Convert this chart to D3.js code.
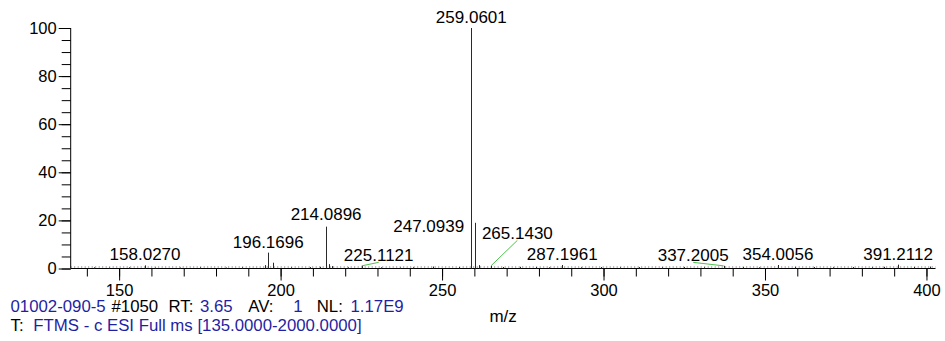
<!DOCTYPE html>
<html>
<head>
<meta charset="utf-8">
<script src="https://cdn.jsdelivr.net/npm/d3@7/dist/d3.min.js"></script>
<style>
  html, body { margin: 0; padding: 0; background: #fff; }
  svg { display: block; font-family: "Liberation Sans", Arial, sans-serif; }
</style>
</head>
<body>
<svg id="chart" width="945" height="341"></svg>
<script>
// Labelled centroid peaks (m/z, relative abundance %)
const labelMz   = [158.0270, 196.1696, 214.0896, 225.1121, 247.0939, 259.0601, 265.1430, 287.1961, 337.2005, 354.0056, 391.2112];
const labelInt  = [1.3, 6.6, 17.4, 1.1, 0.8, 100, 1.1, 1.45, 1.1, 1.45, 1.6];
const labelText = ["158.0270", "196.1696", "214.0896", "225.1121", "247.0939", "259.0601", "265.1430", "287.1961", "337.2005", "354.0056", "391.2112"];

// Smaller unlabelled peaks
const minorMz  = [142.1, 147.0, 153.2, 161.1, 168.9, 175.0, 183.1, 188.2, 195.2, 197.8, 203.1, 209.0, 212.1, 215.09, 216.0, 221.0, 231.1, 236.9, 241.0, 255.1, 260.0635, 261.3, 269.0, 274.1, 279.0, 283.2, 293.0, 299.1, 305.2, 311.0, 318.1, 324.9, 331.2, 343.1, 348.0, 359.2, 365.1, 371.0, 377.2, 383.1, 387.0, 396.2, 401.0];
const minorInt = [0.5, 0.4, 0.5, 0.4, 0.4, 0.5, 0.4, 0.5, 1.4, 2.4, 0.5, 0.6, 0.7, 1.8, 1.0, 0.5, 0.5, 0.4, 0.5, 0.6, 19.0, 1.4, 0.6, 0.7, 0.6, 0.5, 0.5, 0.6, 0.5, 0.6, 0.5, 0.6, 0.5, 0.6, 0.5, 0.7, 0.6, 0.5, 0.6, 0.5, 0.7, 0.6, 0.8];

// Axis ticks
const yMajorTicks = [0, 20, 40, 60, 80, 100];
const xMajorTicks = [150, 200, 250, 300, 350, 400];

// Scan header lines: [text, colour key]
const headerLine1 = [["01002-090-5", "v"], ["#1050", "k"], ["RT:", "k"], ["3.65", "v"], ["AV:", "k"], ["1", "v"], ["NL:", "k"], ["1.17E9", "v"]];
const headerLine2 = [["T:", "k"], ["FTMS - c ESI Full ms [135.0000-2000.0000]", "v"]];

// ---- layout ----
const svg = d3.select("#chart");
const plotLeft = 70.7, plotRight = 935.5, plotTop = 28, plotBase = 268.5;
const x = d3.scaleLinear().domain([135, 402.8]).range([plotLeft, plotRight]);
const y = d3.scaleLinear().domain([0, 100]).range([plotBase, plotTop]);

const blue = "#1f1fa3";
const green = "#4cc24c";

// Baseline noise texture just above the axis
svg.append("line")
  .attr("x1", plotLeft).attr("x2", plotRight)
  .attr("y1", plotBase - 1.5).attr("y2", plotBase - 1.5)
  .attr("stroke", "#555").attr("stroke-width", 1)
  .attr("stroke-dasharray", "1,2.5");

// Axes
const yAxisMinor = d3.axisLeft(y).tickValues(d3.range(0, 101, 5)).tickSize(9).tickFormat("");
const yAxisMajor = d3.axisLeft(y).tickValues(yMajorTicks).tickSize(12).tickPadding(2);
const xAxisMinor = d3.axisBottom(x).tickValues(d3.range(140, 401, 10)).tickSize(8).tickFormat("");
const xAxisMajor = d3.axisBottom(x).tickValues(xMajorTicks).tickSize(12).tickPadding(4);

function styleAxis(g) {
  g.select(".domain").remove();
  g.selectAll("line").attr("stroke", "#000").attr("stroke-width", 1);
  g.selectAll("text").attr("fill", "#000").attr("font-size", "16.5px")
    .attr("font-family", "Liberation Sans, Arial, sans-serif");
}

svg.append("g").attr("transform", `translate(${plotLeft},0)`).call(yAxisMinor).call(styleAxis);
svg.append("g").attr("transform", `translate(${plotLeft},0)`).call(yAxisMajor).call(styleAxis);
svg.append("g").attr("transform", `translate(0,${plotBase})`).call(xAxisMinor).call(styleAxis);
const gxMaj = svg.append("g").attr("transform", `translate(0,${plotBase})`).call(xAxisMajor).call(styleAxis);
gxMaj.selectAll("text").attr("dy", "0.71em");

// Axis lines
svg.append("line").attr("x1", plotLeft).attr("x2", plotLeft).attr("y1", plotTop).attr("y2", plotBase)
  .attr("stroke", "#000").attr("stroke-width", 1);
svg.append("line").attr("x1", plotLeft).attr("x2", plotRight).attr("y1", plotBase).attr("y2", plotBase)
  .attr("stroke", "#000").attr("stroke-width", 1);

// Peaks
const allMz = labelMz.concat(minorMz);
const allInt = labelInt.concat(minorInt);
svg.append("g").selectAll("line").data(allMz).join("line")
  .attr("x1", d => Math.round(x(d)) + 0.5).attr("x2", d => Math.round(x(d)) + 0.5)
  .attr("y1", plotBase).attr("y2", (d, i) => y(allInt[i]))
  .attr("stroke", "#2a2a2a").attr("stroke-width", 1);

// Peak labels; a few are shifted sideways/upwards with a leader line
const shift = {
  "225.1121": { dx: 17, dy: 0, lead: true },
  "247.0939": { dx: -4, dy: -30, lead: false },
  "265.1430": { dx: 26.4, dy: -22, lead: true },
  "337.2005": { dx: -30.5, dy: 0, lead: true },
  "214.0896": { dx: 0, dy: -1.5, lead: false }
};
const lab = svg.append("g");
labelMz.forEach((mz, i) => {
  const px = x(mz), py = y(labelInt[i]);
  const s = shift[labelText[i]] || { dx: 0, dy: 0, lead: false };
  const lx = px + s.dx, ly = py - 5 + s.dy;
  if (s.lead) {
    lab.append("line").attr("x1", px).attr("y1", py).attr("x2", lx).attr("y2", ly + 1.5)
      .attr("stroke", green).attr("stroke-width", 1);
  }
  lab.append("text").attr("x", lx).attr("y", ly).attr("text-anchor", "middle")
    .attr("font-size", "17px").attr("fill", "#000").text(labelText[i]);
});

// Axis title
svg.append("text").attr("x", (plotLeft + plotRight) / 2).attr("y", 321.5).attr("text-anchor", "middle")
  .attr("font-size", "17px").attr("fill", "#000").text("m/z");

// Scan header: one text block, one tspan per field
const hdr = svg.append("text").attr("font-size", "16.8px");
function headerLine(parts, xs, yb) {
  parts.forEach((p, i) => {
    hdr.append("tspan").attr("x", xs[i]).attr("y", yb)
      .attr("fill", p[1] === "v" ? blue : "#000").text(p[0]);
  });
}
headerLine(headerLine1, [10.5, 111.5, 168.5, 200, 248.3, 293.3, 316.7, 350.5], 312.3);
headerLine(headerLine2, [10.5, 33.3], 331);
</script>
</body>
</html>
